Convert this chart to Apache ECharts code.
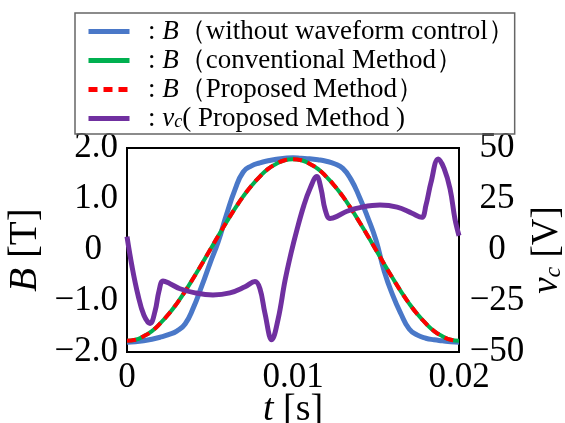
<!DOCTYPE html>
<html>
<head>
<meta charset="utf-8">
<script src="https://cdn.jsdelivr.net/npm/echarts@6/dist/echarts.min.js"></script>
<style>
  html, body { margin: 0; padding: 0; background: #fff; }
  #chart { width: 565px; height: 423px; }
</style>
</head>
<body>
<div id="chart"></div>
<script>
// time axis [s]
const tGrid = [
  0, 0.0005, 0.001, 0.0015, 0.002, 0.0025, 0.003, 0.0035, 0.004, 0.0045,
  0.005, 0.0055, 0.006, 0.0065, 0.007, 0.0075, 0.008, 0.0085, 0.009, 0.0095,
  0.01, 0.0105, 0.011, 0.0115, 0.012, 0.0125, 0.013, 0.0135, 0.014, 0.0145,
  0.015, 0.0155, 0.016, 0.0165, 0.017, 0.0175, 0.018, 0.0185, 0.019, 0.0195, 0.02
];
// B [T] without waveform control
const bWithout = [
  -1.81, -1.80, -1.78, -1.75, -1.71, -1.66, -1.59, -1.45, -1.13, -0.71,
  -0.26, 0.17, 0.70, 1.18, 1.53, 1.65, 1.71, 1.75, 1.78, 1.80,
  1.81, 1.80, 1.79, 1.77, 1.74, 1.69, 1.60, 1.38, 1.04, 0.64,
  0.19, -0.42, -0.88, -1.25, -1.55, -1.67, -1.73, -1.76, -1.78, -1.80, -1.81
];
// B [T] conventional method
const bConventional = [
  -1.78, -1.76, -1.69, -1.59, -1.44, -1.26, -1.05, -0.81, -0.55, -0.28,
  0, 0.28, 0.55, 0.81, 1.05, 1.26, 1.44, 1.59, 1.69, 1.76,
  1.78, 1.76, 1.69, 1.59, 1.44, 1.26, 1.05, 0.81, 0.55, 0.28,
  0, -0.28, -0.55, -0.81, -1.05, -1.26, -1.44, -1.59, -1.69, -1.76, -1.78
];
// B [T] proposed method
const bProposed = [
  -1.78, -1.76, -1.69, -1.59, -1.44, -1.26, -1.05, -0.81, -0.55, -0.28,
  0, 0.28, 0.55, 0.81, 1.05, 1.26, 1.44, 1.59, 1.69, 1.76,
  1.78, 1.76, 1.69, 1.59, 1.44, 1.26, 1.05, 0.81, 0.55, 0.28,
  0, -0.28, -0.55, -0.81, -1.05, -1.26, -1.44, -1.59, -1.69, -1.76, -1.78
];
// vc [V] proposed method
const vcTime = [
  0, 0.0003, 0.00066, 0.00102, 0.00139, 0.00169, 0.00193, 0.00217, 0.00259, 0.00319,
  0.0041, 0.00518, 0.0062, 0.00711, 0.00771, 0.00801, 0.00831, 0.00872, 0.0091, 0.00952,
  0.00988, 0.01024, 0.01066, 0.01102, 0.01143, 0.01169, 0.01193, 0.01223, 0.01265, 0.01325,
  0.01416, 0.01524, 0.01627, 0.01717, 0.01775, 0.01801, 0.01831, 0.01875, 0.0191, 0.01946,
  0.01976, 0.02
];
const vcValue = [
  6.5, -8, -22, -32, -36, -30, -20, -15.2, -16.5, -19,
  -21, -22, -21, -18, -15.5, -19, -31, -44, -34, -15,
  -1.6, 10, 22, 30, 36, 30, 20, 15.5, 16.5, 19,
  21, 22, 21, 18, 16, 22, 33, 44.6, 40, 30,
  15, 7
];

const serif = '"Liberation Serif", "Times New Roman", serif';
const seriesNames = ['bWithout', 'bConventional', 'bProposed', 'vc'];
const legendLabels = {
  bWithout: '  : {i|B}（without waveform control）',
  bConventional: '  : {i|B}（conventional Method）',
  bProposed: '  : {i|B}（Proposed Method）',
  vc: '  : {i|v}{s|c}( Proposed Method )'
};

function pairs(xs, ys) {
  return xs.map((x, i) => [x, ys[i]]);
}
function minus(s) {
  return String(s).replace('-', '\u2212');
}
function italic(size) {
  return { fontFamily: serif, fontStyle: 'italic', fontSize: size, color: '#000' };
}

const chart = echarts.init(document.getElementById('chart'));
chart.setOption({
  animation: false,
  backgroundColor: '#fff',
  legend: {
    orient: 'vertical',
    left: 75,
    top: 13,
    data: seriesNames,
    itemWidth: 41,
    itemHeight: 14,
    itemGap: 2,
    padding: [5, 0, 2, 11],
    borderColor: '#666',
    borderWidth: 1.5,
    itemStyle: { color: 'rgba(0,0,0,0)', borderColor: 'rgba(0,0,0,0)', borderWidth: 0 },
    lineStyle: { width: 5 },
    formatter: (name) => legendLabels[name],
    textStyle: {
      fontFamily: serif,
      fontSize: 27,
      color: '#000',
      lineHeight: 26,
      rich: {
        i: italic(27),
        s: Object.assign(italic(18), { verticalAlign: 'bottom', lineHeight: 20 })
      }
    }
  },
  grid: {
    left: 127, right: 106, top: 148, bottom: 71,
    outerBoundsMode: 'none',
    show: true, borderColor: '#000', borderWidth: 2
  },
  xAxis: {
    type: 'value',
    min: 0, max: 0.02, interval: 0.01,
    axisLine: { show: false },
    axisTick: { show: false },
    splitLine: { show: false },
    axisLabel: {
      fontFamily: serif, fontSize: 35, color: '#000', margin: 8,
      formatter: (v) => (v === 0 ? '0' : v.toFixed(2))
    },
    name: '{i|t} [s]',
    nameLocation: 'middle',
    nameGap: 39,
    nameMoveOverlap: false,
    nameTextStyle: {
      fontFamily: serif, fontSize: 38, color: '#000',
      rich: { i: italic(38) }
    }
  },
  yAxis: [
    {
      type: 'value',
      min: -2, max: 2, interval: 1,
      axisLine: { show: false },
      axisTick: { show: false },
      splitLine: { show: false },
      axisLabel: {
        fontFamily: serif, fontSize: 35, color: '#000', margin: 9,
        formatter: (v) => (v === 0 ? '{z|0}' : minus(v.toFixed(1))),
        rich: { z: { fontFamily: serif, fontSize: 35, color: '#000', padding: [0, 16, 0, 0] } }
      },
      name: '{i|B} [T]',
      nameLocation: 'middle',
      nameRotate: 90,
      nameGap: 82,
      nameMoveOverlap: false,
      nameTextStyle: {
        fontFamily: serif, fontSize: 39, color: '#000',
        rich: { i: italic(39) }
      }
    },
    {
      type: 'value',
      position: 'right',
      min: -50, max: 50, interval: 25,
      axisLine: { show: false },
      axisTick: { show: false },
      splitLine: { show: false },
      axisLabel: {
        fontFamily: serif, fontSize: 35, color: '#000', margin: 38, align: 'center',
        formatter: (v) => minus(v)
      },
      name: '{i|v}{s|c} [V]',
      nameLocation: 'middle',
      nameRotate: 90,
      nameGap: 70,
      nameMoveOverlap: false,
      nameTextStyle: {
        fontFamily: serif, fontSize: 37, color: '#000',
        rich: {
          i: italic(37),
          s: Object.assign(italic(24), { verticalAlign: 'bottom', lineHeight: 30 })
        }
      }
    }
  ],
  series: [
    {
      name: 'bWithout', type: 'line', yAxisIndex: 0, symbol: 'none', smooth: true,
      data: pairs(tGrid, bWithout),
      lineStyle: { color: '#4a78c8', width: 5 }, itemStyle: { color: '#4a78c8' }
    },
    {
      name: 'bConventional', type: 'line', yAxisIndex: 0, symbol: 'none', smooth: true,
      data: pairs(tGrid, bConventional),
      lineStyle: { color: '#00b050', width: 4 }, itemStyle: { color: '#00b050' }
    },
    {
      name: 'bProposed', type: 'line', yAxisIndex: 0, symbol: 'none', smooth: true,
      data: pairs(tGrid, bProposed),
      lineStyle: { color: '#ff0000', width: 4, type: [9, 6] }, itemStyle: { color: '#ff0000' }
    },
    {
      name: 'vc', type: 'line', yAxisIndex: 1, symbol: 'none', smooth: 0.4,
      data: pairs(vcTime, vcValue),
      lineStyle: { color: '#7030a0', width: 5 }, itemStyle: { color: '#7030a0' }
    }
  ]
});
</script>
</body>
</html>
